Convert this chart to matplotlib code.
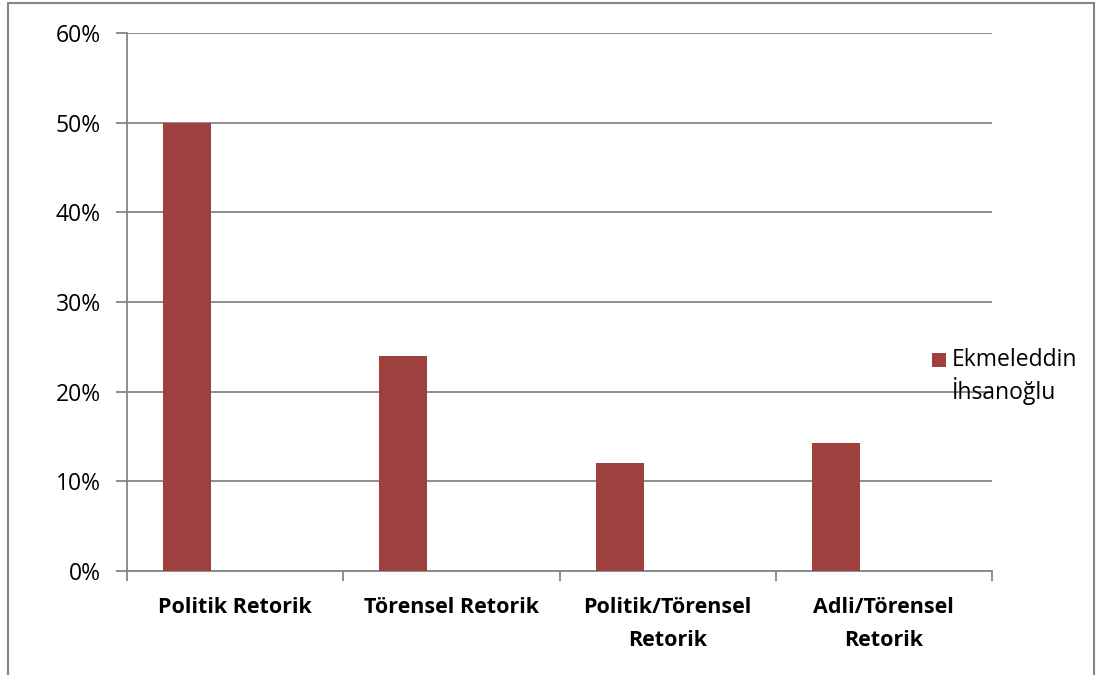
import matplotlib.pyplot as plt
from matplotlib.patches import Rectangle
from matplotlib.ticker import PercentFormatter, FixedLocator, NullFormatter

categories = ['Politik Retorik', 'Törensel Retorik', 'Politik/Törensel\nRetorik', 'Adli/Törensel\nRetorik']
values = [50.0, 24.0, 12.0, 14.3]
series_name = ['Ekmeleddin', 'İhsanoğlu']
yticks = [0, 10, 20, 30, 40, 50, 60]

bar_color = '#9E413E'
line_color = '#868686'

plt.rcParams['font.family'] = ['Open Sans', 'DejaVu Sans']

fig = plt.figure(figsize=(10.97, 6.75), dpi=100)
ax = fig.add_axes([127 / 1097, 1 - 571 / 675, (992 - 127) / 1097, (571 - 33) / 675])

# single series drawn in the left part of each category slot
w = 0.222
x = [i - w for i in range(len(categories))]
ax.bar(x, values, width=w, color=bar_color, zorder=3)

ax.set_xlim(-0.5, len(categories) - 0.5)
ax.set_ylim(0, 60)
ax.set_yticks(yticks)
ax.yaxis.set_major_formatter(PercentFormatter(decimals=0))
ax.grid(axis='y', color=line_color, linewidth=1.3, zorder=0)

# category boundaries carry the tick marks, labels sit in between
ax.xaxis.set_major_locator(FixedLocator([i - 0.5 for i in range(len(categories) + 1)]))
ax.xaxis.set_major_formatter(NullFormatter())
ax.xaxis.set_minor_locator(FixedLocator(range(len(categories))))
ax.set_xticklabels(categories, minor=True, fontsize=15.5, fontweight='bold',
                   linespacing=1.75)
ax.tick_params(axis='x', which='minor', length=0, pad=19)
ax.tick_params(axis='x', which='major', length=7, width=1.3, color=line_color)
ax.tick_params(axis='y', length=8, width=1.3, color=line_color, labelsize=16.5, pad=11)

for s in ['top', 'right']:
    ax.spines[s].set_visible(False)
for s in ['left', 'bottom']:
    ax.spines[s].set_color(line_color)
    ax.spines[s].set_linewidth(1.3)

# legend entry: swatch next to a two-line name
fig.patches.append(Rectangle((932 / 1097, 1 - 366.5 / 675), 14 / 1097, 14 / 675,
                             transform=fig.transFigure, facecolor=bar_color,
                             edgecolor='none', zorder=5))
fig.text(952 / 1097, 1 - 366.5 / 675, series_name[0], fontsize=16.5,
         va='baseline', ha='left', zorder=5)
fig.text(952 / 1097, 1 - 399 / 675, series_name[1], fontsize=16.5,
         va='baseline', ha='left', zorder=5)

# chart frame
fig.patches.append(Rectangle((8 / 1097, -0.05), (1094 - 8) / 1097, 1.05 - 3 / 675,
                             transform=fig.transFigure, facecolor='none',
                             edgecolor=line_color, linewidth=1.5))

fig.savefig('out.png', dpi=100)
